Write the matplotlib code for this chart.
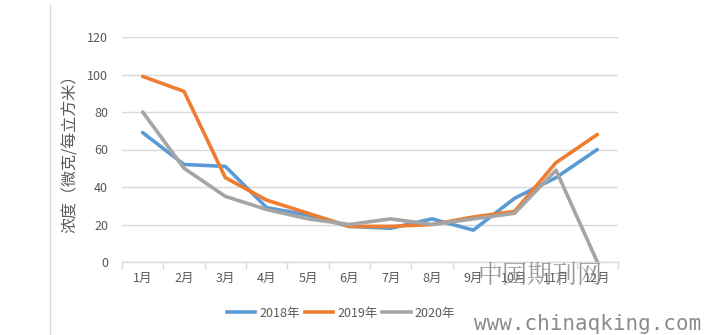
import matplotlib
matplotlib.use("Agg")
import matplotlib.pyplot as plt
from matplotlib.lines import Line2D

plt.rcParams['font.family'] = ['Noto Sans CJK SC', 'DejaVu Sans']

months = ['1月', '2月', '3月', '4月', '5月', '6月', '7月', '8月', '9月', '10月', '11月', '12月']
s2018 = [69, 52, 51, 29, 25, 19, 18, 23, 17, 34, 45, 60]
s2019 = [99, 91, 45, 33, 26, 19, 19, 20, 24, 27, 53, 68]
s2020 = [80, 50, 35, 28, 23, 20, 23, 20, 23, 26, 49, 0]
series_names = ['2018年', '2019年', '2020年']
colors = ['#5b9bd5', '#ed7d31', '#a5a5a5']
yticks = [0, 20, 40, 60, 80, 100, 120]

fig = plt.figure(figsize=(7.04, 3.35), dpi=100)
ax = fig.add_axes([122/704, 1-262/335, (618-122)/704, (262-37)/335])

x = list(range(len(months)))
for data, c in zip([s2018, s2019, s2020], colors):
    ax.plot(x, data, color=c, lw=2.6, solid_joinstyle='round', solid_capstyle='round', zorder=3)

ax.set_xlim(-0.5, len(months) - 0.5)
ax.set_ylim(0, 120)
ax.set_yticks(yticks)
ax.set_yticklabels([str(v) for v in yticks])
ax.set_xticks(x)
ax.set_xticklabels(months)
ax.set_xticks([i - 0.5 for i in range(len(months) + 1)], minor=True)
ax.tick_params(axis='x', which='major', length=0, pad=7, labelsize=9, colors='#595959')
ax.tick_params(axis='x', which='minor', length=5, color='#d9d9d9', width=1)
ax.tick_params(axis='y', length=0, pad=10, labelsize=9, colors='#595959')
ax.grid(axis='y', color='#d9d9d9', lw=1)
ax.set_axisbelow(True)
for s in ['top', 'right', 'left']:
    ax.spines[s].set_visible(False)
ax.spines['bottom'].set_color('#d9d9d9')
ax.spines['bottom'].set_linewidth(1)

ax.set_ylabel('浓度（微克/每立方米）', fontsize=11.5, color='#595959', labelpad=6)

# chart border line on left
fig.add_artist(Line2D([50/704, 50/704], [0, 1-5/335], color='#d9d9d9', lw=1))

handles = [Line2D([], [], color=c, lw=2.6) for c in colors]
fig.legend(handles, series_names, loc='center', bbox_to_anchor=(341/704, 1-313/335),
           ncol=3, frameon=False, fontsize=9, handlelength=2.3, handletextpad=0.3,
           columnspacing=0.4, labelcolor='#595959')

# watermark
fig.text(540/704, 1-276/335, '中国期刊网', fontsize=18, color='#7f7f7f', alpha=0.8,
         ha='center', va='center', family=['Noto Serif CJK SC', 'Noto Sans CJK SC'])
fig.text(588/704, 1-324/335, 'www.chinaqking.com', fontsize=15, color='#7f7f7f', alpha=0.9,
         ha='center', va='center', family=['DejaVu Sans Mono'])

fig.savefig('out.png', dpi=100, facecolor='white')
